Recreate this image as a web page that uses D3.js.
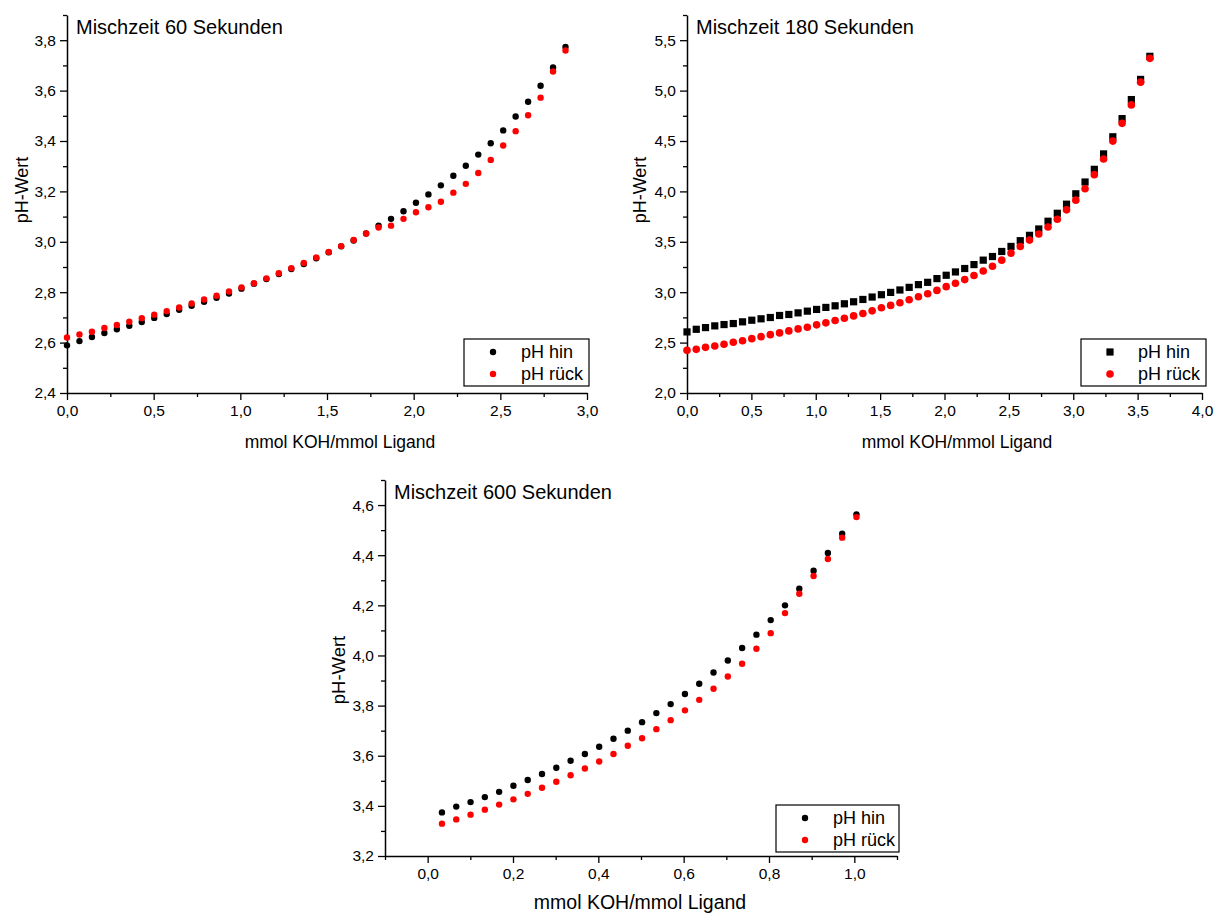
<!DOCTYPE html>
<html><head><meta charset="utf-8">
<script src="https://cdn.jsdelivr.net/npm/d3@7"></script>
<style>
html,body{margin:0;padding:0;background:#fff;}
svg{display:block;font-family:"Liberation Sans",Arial,sans-serif;}
</style></head><body>
<svg id="c" width="1215" height="914"></svg>
<script>
// ---------- DATA ----------
const seriesNames = ["pH hin", "pH rück"];
const xLabel = "mmol KOH/mmol Ligand";
const yLabel = "pH-Wert";
const titles = ["Mischzeit 60 Sekunden", "Mischzeit 180 Sekunden", "Mischzeit 600 Sekunden"];

// Panel 1 (60 s): step ≈ 0.0719
const x60 = d3.range(41).map(i => +(i * 0.0719).toFixed(4));
const hin60 = [2.589,2.606,2.622,2.638,2.653,2.667,2.682,2.698,2.713,2.730,2.746,2.762,2.778,2.795,2.814,2.834,2.852,2.872,2.892,2.912,2.935,2.958,2.982,3.005,3.033,3.064,3.091,3.121,3.155,3.188,3.224,3.262,3.302,3.346,3.391,3.442,3.497,3.556,3.619,3.692,3.773];
const rueck60 = [2.620,2.632,2.643,2.658,2.670,2.683,2.697,2.711,2.725,2.739,2.755,2.771,2.786,2.803,2.819,2.836,2.855,2.875,2.895,2.916,2.938,2.960,2.983,3.007,3.033,3.057,3.064,3.091,3.117,3.137,3.159,3.195,3.230,3.273,3.325,3.382,3.439,3.502,3.572,3.676,3.759];

// Panel 2 (180 s)
const x180 = d3.range(51).map(i => +(i * 0.0719).toFixed(4));
const hin180 = [2.606,2.632,2.649,2.666,2.679,2.689,2.706,2.722,2.736,2.749,2.769,2.779,2.795,2.812,2.829,2.849,2.865,2.885,2.905,2.928,2.952,2.975,2.998,3.022,3.048,3.075,3.098,3.135,3.168,3.201,3.235,3.274,3.318,3.354,3.404,3.454,3.511,3.564,3.627,3.704,3.783,3.873,3.976,4.093,4.219,4.372,4.542,4.722,4.911,5.111,5.340];
const rueck180 = [2.423,2.433,2.453,2.466,2.483,2.503,2.519,2.539,2.559,2.579,2.596,2.616,2.636,2.652,2.676,2.696,2.719,2.742,2.765,2.789,2.815,2.845,2.869,2.895,2.925,2.955,2.985,3.018,3.055,3.088,3.125,3.165,3.211,3.258,3.318,3.388,3.454,3.517,3.577,3.647,3.724,3.817,3.913,4.026,4.166,4.322,4.499,4.675,4.858,5.084,5.320];

// Panel 3 (600 s)
const x600 = d3.range(30).map(i => +((i + 1) * 0.0335).toFixed(4));
const hin600 = [3.374,3.397,3.415,3.435,3.456,3.480,3.503,3.527,3.552,3.580,3.607,3.636,3.668,3.700,3.734,3.770,3.806,3.846,3.887,3.932,3.980,4.030,4.083,4.141,4.200,4.266,4.338,4.409,4.486,4.563];
const rueck600 = [3.329,3.346,3.365,3.385,3.405,3.426,3.448,3.472,3.496,3.522,3.549,3.577,3.607,3.640,3.670,3.706,3.742,3.781,3.823,3.867,3.916,3.967,4.027,4.089,4.169,4.246,4.317,4.385,4.470,4.552];

// Axis tick values
const xMajor60 = [0, 0.5, 1, 1.5, 2, 2.5, 3];
const yMajor60 = [2.4, 2.6, 2.8, 3.0, 3.2, 3.4, 3.6, 3.8];
const xMajor180 = [0, 0.5, 1, 1.5, 2, 2.5, 3, 3.5, 4];
const yMajor180 = [2.0, 2.5, 3.0, 3.5, 4.0, 4.5, 5.0, 5.5];
const xMajor600 = [0, 0.2, 0.4, 0.6, 0.8, 1.0];
const yMajor600 = [3.2, 3.4, 3.6, 3.8, 4.0, 4.2, 4.4, 4.6];

// ---------- LAYOUT ----------
const panels = [
  {title: titles[0], x: x60, hin: hin60, rueck: rueck60, xDom: [0, 3], yDom: [2.4, 3.9],
   xr: [67, 587], yr: [393, 15], xMajor: xMajor60, xMinorStep: 0.25, yMajor: yMajor60, yMinorStep: 0.1,
   hinShape: "circle", r: 3.2, ylabX: 22, ylabY: 190, xlabX: 340, xlabY: 448, xlabFs: 17.5, ylabFs: 18,
   legend: [464, 339, 125, 47]},
  {title: titles[1], x: x180, hin: hin180, rueck: rueck180, xDom: [0, 4], yDom: [2.0, 5.75],
   xr: [687, 1202], yr: [393, 15], xMajor: xMajor180, xMinorStep: 0.25, yMajor: yMajor180, yMinorStep: 0.25,
   hinShape: "square", r: 3.6, ylabX: 640, ylabY: 190, xlabX: 957, xlabY: 448, xlabFs: 17.5, ylabFs: 18,
   legend: [1081, 339, 125, 47]},
  {title: titles[2], x: x600, hin: hin600, rueck: rueck600, xDom: [-0.1, 1.1], yDom: [3.2, 4.7],
   xr: [385, 897], yr: [856, 480], xMajor: xMajor600, xMinorStep: 0.1, yMajor: yMajor600, yMinorStep: 0.1,
   hinShape: "circle", r: 3.2, ylabX: 339, ylabY: 670, xlabX: 640, xlabY: 909, xlabFs: 19.5, ylabFs: 18.5,
   legend: [776, 805, 123, 47]}
];

const svg = d3.select("#c");
const fmt = d => d3.format(".1f")(d).replace(".", ",");

function minorTicks(dom, step, major) {
  const out = [];
  const n0 = Math.ceil(dom[0] / step - 1e-6), n1 = Math.floor(dom[1] / step + 1e-6);
  for (let n = n0; n <= n1; n++) {
    const v = +(n * step).toFixed(6);
    if (!major.some(m => Math.abs(m - v) < 1e-6)) out.push(v);
  }
  return out;
}

panels.forEach(p => {
  const g = svg.append("g");
  const xs = d3.scaleLinear().domain(p.xDom).range(p.xr);
  const ys = d3.scaleLinear().domain(p.yDom).range(p.yr);
  const x0 = p.xr[0], y0 = p.yr[0];

  // minor ticks
  g.append("g").attr("transform", `translate(0,${y0})`)
    .call(d3.axisBottom(xs).tickValues(minorTicks(p.xDom, p.xMinorStep, p.xMajor)).tickSize(4).tickSizeOuter(0).tickFormat(""))
    .call(s => s.select(".domain").remove());
  g.append("g").attr("transform", `translate(${x0},0)`)
    .call(d3.axisLeft(ys).tickValues(minorTicks(p.yDom, p.yMinorStep, p.yMajor)).tickSize(4).tickSizeOuter(0).tickFormat(""))
    .call(s => s.select(".domain").remove());

  // major axes
  const ax = g.append("g").attr("transform", `translate(0,${y0})`)
    .call(d3.axisBottom(xs).tickValues(p.xMajor).tickSize(7).tickSizeOuter(0).tickPadding(5).tickFormat(fmt));
  const ay = g.append("g").attr("transform", `translate(${x0},0)`)
    .call(d3.axisLeft(ys).tickValues(p.yMajor).tickSize(7).tickSizeOuter(0).tickPadding(4).tickFormat(fmt));
  [ax, ay].forEach(a => {
    a.selectAll("text").attr("font-size", 15.5).attr("fill", "#000").attr("font-family", "Liberation Sans, Arial, sans-serif");
  });
  g.selectAll(".domain, .tick line").attr("stroke", "#000").attr("stroke-width", 1.3);
  g.selectAll(".domain").attr("stroke-width", 1.5);

  // data
  const pts = p.x.map((xv, i) => ({x: xv, h: p.hin[i], r: p.rueck[i]}));
  if (p.hinShape === "square") {
    g.selectAll(null).data(pts).join("rect")
      .attr("x", d => xs(d.x) - 3.6).attr("y", d => ys(d.h) - 3.6)
      .attr("width", 7.2).attr("height", 7.2).attr("fill", "#000");
  } else {
    g.selectAll(null).data(pts).join("circle")
      .attr("cx", d => xs(d.x)).attr("cy", d => ys(d.h)).attr("r", p.r).attr("fill", "#000");
  }
  g.selectAll(null).data(pts).join("circle")
    .attr("cx", d => xs(d.x)).attr("cy", d => ys(d.r)).attr("r", p.hinShape === "square" ? 3.8 : p.r).attr("fill", "#ff0000");

  // title
  g.append("text").attr("x", x0 + 9).attr("y", p.yr[1] + 19).attr("font-size", 20).attr("fill", "#000").text(p.title);

  // axis labels
  g.append("text").attr("x", p.xlabX).attr("y", p.xlabY).attr("text-anchor", "middle")
    .attr("font-size", p.xlabFs).attr("fill", "#000").text(xLabel);
  g.append("text").attr("transform", `translate(${p.ylabX},${p.ylabY}) rotate(-90)`).attr("text-anchor", "middle")
    .attr("dy", "0.35em").attr("font-size", p.ylabFs).attr("fill", "#000").text(yLabel);

  // legend
  const [lx, ly, lw, lh] = p.legend;
  const lg = g.append("g");
  lg.append("rect").attr("x", lx).attr("y", ly).attr("width", lw).attr("height", lh)
    .attr("fill", "#fff").attr("stroke", "#000").attr("stroke-width", 1.2);
  seriesNames.forEach((nm, i) => {
    const cy = ly + 13 + i * 22;
    if (i === 0 && p.hinShape === "square") {
      lg.append("rect").attr("x", lx + 29 - 3.6).attr("y", cy - 3.6).attr("width", 7.2).attr("height", 7.2).attr("fill", "#000");
    } else {
      lg.append("circle").attr("cx", lx + 29).attr("cy", cy).attr("r", i === 0 ? p.r : (p.hinShape === "square" ? 3.8 : p.r))
        .attr("fill", i === 0 ? "#000" : "#ff0000");
    }
    lg.append("text").attr("x", lx + 57).attr("y", cy).attr("dy", "0.35em").attr("font-size", 18).attr("fill", "#000").text(nm);
  });
});
</script>
</body></html>
